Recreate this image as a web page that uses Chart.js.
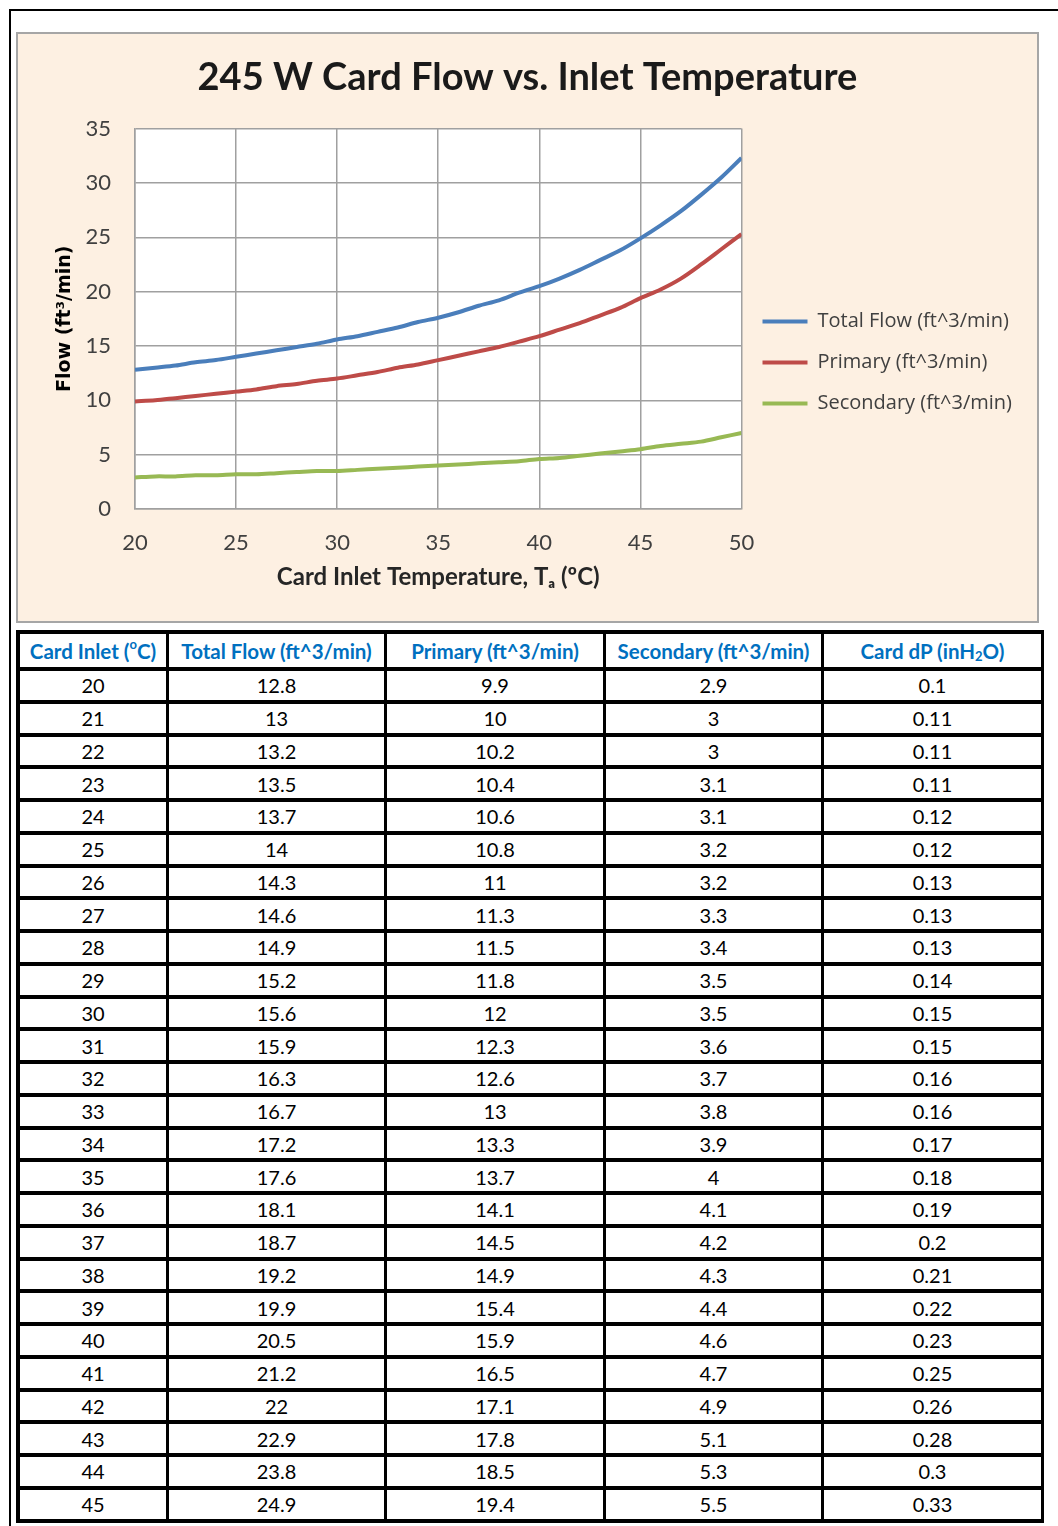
<!DOCTYPE html>
<html>
<head>
<meta charset="utf-8">
<script src="https://cdn.jsdelivr.net/npm/chart.js@4"></script>
<style>
    body { margin: 0; background: #fff; width: 1058px; height: 1526px; position: relative; overflow: hidden; }
    #frame { position: absolute; left: 9px; top: 9px; width: 1060px; height: 1530px; border-top: 2px solid #000; border-left: 2px solid #000; }
    #chartBox { position: absolute; left: 16px; top: 32px; width: 1023px; height: 591px; box-sizing: border-box;
        border: 2px solid #a6a6a6; background: #fdf0e2; }
    #chartBox canvas { position: absolute; left: 0; top: 0; }
    #flowTable { position: absolute; left: 16px; top: 630px; display: grid; background: #000;
        padding: 4px 3px 4px 4px; column-gap: 3px; row-gap: 4px;
        grid-template-columns: 146px 215px 216px 215px 217px;
        grid-auto-rows: 28.76px; grid-template-rows: 33px; }
    #flowTable div { background: #fff; display: flex; align-items: center; justify-content: center;
        font-family: Lato, sans-serif; font-size: 20px; color: #000; }
    #flowTable div.head { color: #0070c0; font-weight: bold; font-size: 20.5px; }
    sup { font-size: 13px; position: relative; top: -7px; }
    sub { font-size: 13px; position: relative; top: 5px; }
</style>
</head>
<body>
<div id="frame"></div>
<div id="chartBox"><canvas id="flowChart" width="1019" height="587"></canvas></div>
<div id="flowTable"></div>

<script>
// inlet temperature (degC)
const temps = [20, 21, 22, 23, 24, 25, 26, 27, 28, 29, 30, 31, 32, 33, 34, 35, 36, 37, 38, 39, 40,
    41, 42, 43, 44, 45, 46, 47, 48, 49, 50];
// flows (ft^3/min), 46-50
const totalFlow = [12.8, 13, 13.2, 13.5, 13.7, 14, 14.3, 14.6, 14.9, 15.2, 15.6, 15.9, 16.3, 16.7, 17.2, 17.6,
    18.1, 18.7, 19.2, 19.9, 20.5, 21.2, 22, 22.9, 23.8, 24.9, 26.1, 27.4, 28.9, 30.5, 32.3];
const primaryFlow = [9.9, 10, 10.2, 10.4, 10.6, 10.8, 11, 11.3, 11.5, 11.8, 12, 12.3, 12.6, 13, 13.3, 13.7,
    14.1, 14.5, 14.9, 15.4, 15.9, 16.5, 17.1, 17.8, 18.5, 19.4, 20.2, 21.2, 22.5, 23.9, 25.3];
const secondaryFlow = [2.9, 3, 3, 3.1, 3.1, 3.2, 3.2, 3.3, 3.4, 3.5, 3.5, 3.6, 3.7, 3.8, 3.9, 4,
    4.1, 4.2, 4.3, 4.4, 4.6, 4.7, 4.9, 5.1, 5.3, 5.5, 5.8, 6.0, 6.2, 6.6, 7.0];
// card dP (inH2O), only the rows visible in the table
const cardDP = [0.1, 0.11, 0.11, 0.11, 0.12, 0.12, 0.13, 0.13, 0.13, 0.14, 0.15, 0.15, 0.16, 0.16, 0.17, 0.18,
    0.19, 0.2, 0.21, 0.22, 0.23, 0.25, 0.26, 0.28, 0.3, 0.33];

const xTicks = [20, 25, 30, 35, 40, 45, 50];
const yTicks = [0, 5, 10, 15, 20, 25, 30, 35];

const seriesNames = ['Total Flow (ft^3/min)', 'Primary (ft^3/min)', 'Secondary (ft^3/min)'];
const seriesColors = ['#4a7ebb', '#be4b48', '#98b954'];
const tableHeads = ['Card Inlet (<sup>o</sup>C)', 'Total Flow (ft^3/min)', 'Primary (ft^3/min)',
    'Secondary (ft^3/min)', 'Card dP (inH<sub>2</sub>O)'];

// build the table
const table = document.getElementById('flowTable');
tableHeads.forEach(h => {
    const cell = document.createElement('div');
    cell.className = 'head';
    cell.innerHTML = h;
    table.appendChild(cell);
});
cardDP.forEach((dp, i) => {
    [temps[i], totalFlow[i], primaryFlow[i], secondaryFlow[i], dp].forEach(v => {
        const cell = document.createElement('div');
        cell.textContent = String(v);
        table.appendChild(cell);
    });
});

const whitePlot = {
    id: 'whitePlot',
    beforeDraw(chart) {
        const a = chart.chartArea;
        chart.ctx.save();
        chart.ctx.fillStyle = '#fff';
        chart.ctx.fillRect(a.left, a.top, a.right - a.left, a.bottom - a.top);
        chart.ctx.restore();
    }
};

const toPoints = arr => arr.map((v, i) => ({ x: temps[i], y: v }));

const legendSize = 20;
const legendFont = legendSize + 'px "Open Sans"';
const legendPad = 22;
const lineLen = 45;
const plotLeft = 117;    // wanted plot edges inside the canvas
const plotRight = 722;
const yTitleX = 47;

function drawChart() {
    const canvas = document.getElementById('flowChart');
    const ctx = canvas.getContext('2d');

    // legend width is known only from the text, so size the side padding from it
    ctx.font = legendFont;
    const textW = Math.max(...seriesNames.map(n => ctx.measureText(n).width));
    const legendW = Math.ceil(legendPad + lineLen + legendSize / 2 + textW + 10);
    const side = Math.max(0, canvas.width - plotRight - legendW);

    new Chart(ctx, {
        type: 'line',
        data: {
            datasets: [totalFlow, primaryFlow, secondaryFlow].map((arr, i) => ({
                label: seriesNames[i],
                data: toPoints(arr),
                borderColor: seriesColors[i],
                backgroundColor: seriesColors[i],
                borderWidth: 4,
                pointRadius: 0,
                tension: 0.3
            }))
        },
        options: {
            responsive: false,
            animation: false,
            layout: { padding: { left: side, right: side, top: 0, bottom: 0 } },
            plugins: {
                title: {
                    display: true,
                    text: '245 W Card Flow vs. Inlet Temperature',
                    color: '#1a1a1a',
                    font: { family: 'Lato', size: 38, weight: 'bold' },
                    padding: { top: 21, bottom: 28 }
                },
                legend: {
                    position: 'right',
                    maxWidth: 400,
                    // blank title only pushes the entries down
                    title: { display: true, text: ' ', font: { size: 10 }, padding: { top: 29, bottom: 29 } },
                    labels: {
                        usePointStyle: true,
                        pointStyle: 'line',
                        pointStyleWidth: lineLen,
                        padding: 21,
                        color: '#404040',
                        font: { family: 'Open Sans', size: legendSize }
                    }
                },
                tooltip: { enabled: false }
            },
            scales: {
                x: {
                    type: 'linear',
                    min: 20,
                    max: 50,
                    afterBuildTicks: s => { s.ticks = xTicks.map(v => ({ value: v })); },
                    afterFit: s => { s.height = 112; },
                    ticks: { color: '#404040', font: { family: 'Lato', size: 22 }, padding: 21 },
                    grid: { color: '#a0a0a0', lineWidth: 1.5, drawTicks: false },
                    border: { color: '#a0a0a0', width: 1.5 },
                    title: {
                        display: true,
                        text: 'Card Inlet Temperature, T\u2090 (\u00baC)',
                        color: '#262626',
                        font: { family: 'Lato', size: 24, weight: 'bold' },
                        padding: { top: 0, bottom: 29 }
                    }
                },
                y: {
                    min: 0,
                    max: 35,
                    afterBuildTicks: s => { s.ticks = yTicks.map(v => ({ value: v })); },
                    afterFit: s => { s.width = plotLeft - side; },
                    ticks: { color: '#404040', font: { family: 'Lato', size: 22 }, padding: 24 },
                    grid: { color: '#a0a0a0', lineWidth: 1.5, drawTicks: false },
                    border: { color: '#a0a0a0', width: 1.5 },
                    title: {
                        display: true,
                        text: 'Flow (ft\u00b3/min)',
                        color: '#000',
                        font: { family: 'DejaVu Sans', size: 19, weight: 'bold' },
                        padding: { top: Math.max(0, yTitleX - side - 11.4), bottom: 0 }
                    }
                }
            }
        },
        plugins: [whitePlot]
    });
}

Promise.all([
    document.fonts.load(legendFont),
    document.fonts.load('bold 38px Lato'),
    document.fonts.load('22px Lato'),
    document.fonts.load('bold 19px "DejaVu Sans"')
]).then(drawChart, drawChart);
</script>
</body>
</html>
